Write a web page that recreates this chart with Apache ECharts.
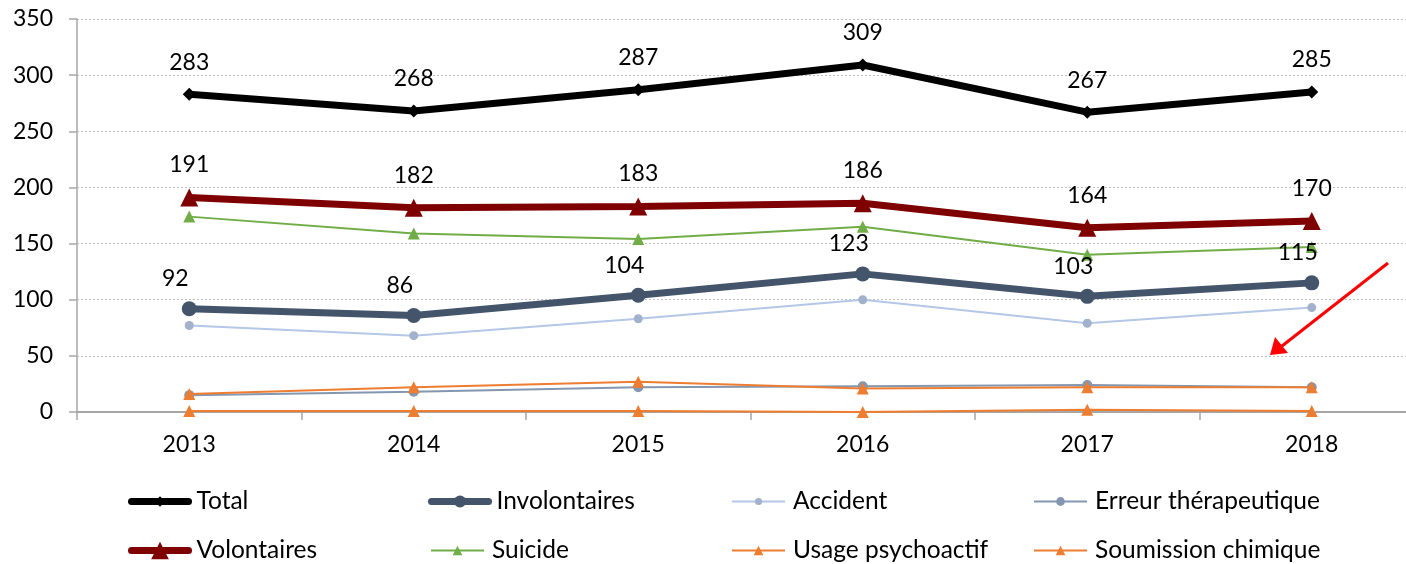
<!DOCTYPE html>
<html>
<head>
<meta charset="utf-8">
<style>
  html, body { margin: 0; padding: 0; background: #fff; overflow: hidden; }
  /* the plot area runs a little past the right edge of the picture, as in the original */
  #chart { width: 1424px; height: 564px; }
</style>
<script src="https://cdn.jsdelivr.net/npm/echarts@6/dist/echarts.min.js"></script>
</head>
<body>
<div id="chart"></div>
<script>
// data
var years = ['2013', '2014', '2015', '2016', '2017', '2018']
var total = [283, 268, 287, 309, 267, 285]
var volontaires = [191, 182, 183, 186, 164, 170]
var involontaires = [92, 86, 104, 123, 103, 115]
var suicide = [174, 159, 154, 165, 140, 147]
var accident = [77, 68, 83, 100, 79, 93]
var erreurTherapeutique = [15, 18, 22, 23, 24, 22]
var usagePsychoactif = [16, 22, 27, 21, 22, 22]
var soumissionChimique = [1, 1, 1, 0, 2, 1]

var FONT = 'Lato, "Open Sans", sans-serif'
var FS = 23

var chart = echarts.init(document.getElementById('chart'))

// one legend per entry so the 4x2 grid lines up like the original
function legendItem(name, left, centerY, iconW, symH, lineW, round) {
  return {
    left: left,
    top: centerY - 12,
    itemWidth: iconW,
    itemHeight: symH,
    padding: 0,
    lineStyle: { width: lineW, cap: round ? 'round' : 'butt' },
    textStyle: { fontFamily: FONT, fontSize: 24.5, color: '#000', padding: [0, 0, 0, 3] },
    data: [name]
  }
}

function line(name, data, opts) {
  var s = {
    name: name,
    type: 'line',
    data: data,
    symbol: opts.symbol,
    symbolSize: opts.size,
    z: opts.z,
    lineStyle: { color: opts.lineColor || opts.color, width: opts.width },
    itemStyle: { color: opts.color },
    animation: false
  }
  if (opts.label) {
    s.label = {
      show: true,
      position: 'top',
      distance: opts.labelDist,
      offset: opts.labelOffset || [0, 0],
      fontFamily: FONT,
      fontSize: FS,
      color: '#000'
    }
  }
  return s
}

var row1 = 501, row2 = 550

chart.setOption({
  backgroundColor: '#fff',
  grid: { left: 77, top: 19, right: 0, bottom: 152 },
  legend: [
    legendItem('Total', 128, row1, 57, 13, 7, true),
    legendItem('Volontaires', 128, row2, 57, 22, 7, true),
    legendItem('Involontaires', 428, row1, 57, 15, 7, true),
    legendItem('Suicide', 430, row2, 53, 12, 2, false),
    legendItem('Accident', 731, row1, 53, 9, 2, false),
    legendItem('Usage psychoactif', 731, row2, 53, 12, 2, false),
    legendItem('Erreur thérapeutique', 1033, row1, 53, 11, 2, false),
    legendItem('Soumission chimique', 1033, row2, 53, 12, 2, false)
  ],
  xAxis: {
    type: 'category',
    data: years,
    boundaryGap: true,
    axisLine: { lineStyle: { color: '#a6a6a6', width: 2 } },
    axisTick: { show: true, interval: 0, length: 8, lineStyle: { color: '#a6a6a6', width: 1.5 } },
    axisLabel: { fontFamily: FONT, fontSize: FS, color: '#000', margin: 21 }
  },
  yAxis: {
    type: 'value',
    min: 0,
    max: 350,
    interval: 50,
    axisLine: { show: true, lineStyle: { color: '#a6a6a6', width: 1.5 } },
    axisTick: { show: true, length: 8, lineStyle: { color: '#a6a6a6', width: 1.5 } },
    axisLabel: { fontFamily: FONT, fontSize: FS, color: '#000', margin: 24 },
    splitLine: { lineStyle: { color: '#bfbfbf', type: [2, 2], width: 1 } }
  },
  series: [
    line('Total', total, { color: '#000000', width: 7, symbol: 'diamond', size: 13, z: 10, label: true, labelDist: 14 }),
    line('Volontaires', volontaires, { color: '#7f0000', width: 7, symbol: 'triangle', size: 18, z: 9, label: true, labelDist: 12 }),
    line('Involontaires', involontaires, { color: '#44546a', width: 7, symbol: 'circle', size: 15, z: 8, label: true, labelDist: 11, labelOffset: [-14, 0] }),
    line('Suicide', suicide, { color: '#70ad47', width: 2, symbol: 'triangle', size: 12, z: 5 }),
    line('Accident', accident, { color: '#a3b2cc', lineColor: '#b4c7e7', width: 2, symbol: 'circle', size: 9, z: 5 }),
    line('Erreur thérapeutique', erreurTherapeutique, { color: '#8497b0', width: 2, symbol: 'circle', size: 10, z: 4 }),
    line('Usage psychoactif', usagePsychoactif, { color: '#ed7d31', width: 2, symbol: 'triangle', size: 12, z: 5 }),
    line('Soumission chimique', soumissionChimique, { color: '#ed7d31', width: 2, symbol: 'triangle', size: 12, z: 5 })
  ],
  graphic: [
    {
      type: 'line',
      shape: { x1: 1388, y1: 263, x2: 1282, y2: 346 },
      style: { stroke: '#ff0000', lineWidth: 3 },
      z: 20
    },
    {
      type: 'polygon',
      shape: { points: [[1270, 355], [1275, 337], [1288, 353]] },
      style: { fill: '#ff0000' },
      z: 20
    }
  ]
})
</script>
</body>
</html>
